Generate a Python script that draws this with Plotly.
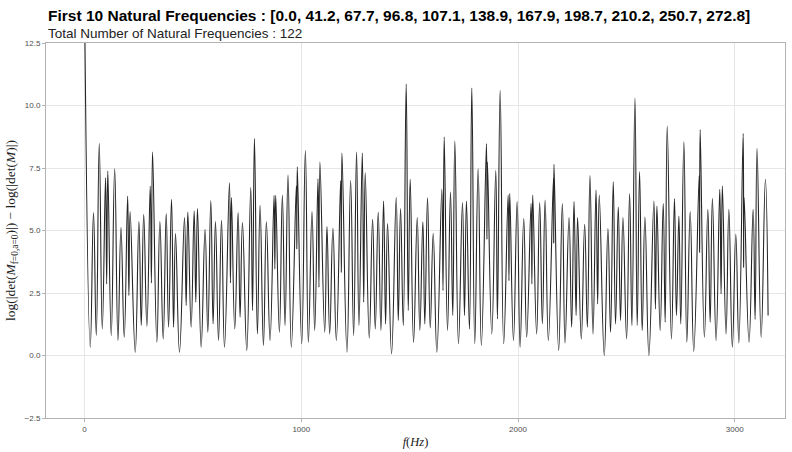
import plotly.graph_objects as go

# Peaks (natural frequencies, Hz) and their heights
peak_freqs = [0, 41.2, 67.7, 96.8, 107.1, 138.9, 167.9, 198.7, 210.2, 250.7, 272.8,
              302.9, 313.7, 347.5, 376.7, 401.2, 419.6, 461, 476.5, 505.6, 521, 556,
              582.5, 604, 631.8, 668.5, 677.7, 708.5, 728.6, 766.8, 783.8, 809.8, 839,
              874.3, 882, 912.7, 938.7, 977, 981.6, 1018.8, 1049.5, 1077, 1086, 1118.5,
              1146, 1181.6, 1187.7, 1227.6, 1255, 1281.5, 1295, 1329, 1355, 1379.7, 1398,
              1438, 1458, 1484, 1502.5, 1535, 1561, 1582.5, 1608.7, 1648.5, 1659.4,
              1688.5, 1708.5, 1743.8, 1762, 1786.8, 1816, 1854.4, 1859, 1897.4, 1917.6,
              1954.4, 1962, 1996, 2026.5, 2060.3, 2068, 2100, 2125, 2163.5, 2166, 2204.6,
              2235.5, 2258.5, 2275, 2307.5, 2332, 2360, 2375, 2415, 2439.6, 2462.7,
              2484.3, 2515, 2539.6, 2561, 2585.6, 2627, 2641, 2670, 2688.5, 2722, 2742.4,
              2765.4, 2794.5, 2836, 2840.5, 2876, 2897, 2931, 2943, 2973, 3005, 3039,
              3043.5, 3085, 3103, 3141.5]
peak_vals = [14.0, 5.72, 8.48, 7.11, 7.38, 7.47, 5.12, 6.38, 5.76, 5.36, 5.65,
             6.78, 8.14, 5.36, 5.68, 6.25, 4.88, 5.52, 5.74, 5.78, 5.88, 5.05,
             6.2, 5.36, 5.41, 6.91, 6.32, 5.72, 5.32, 6.72, 8.68, 6.01, 5.35,
             6.41, 6.41, 6.42, 7.22, 6.78, 7.55, 8.2, 5.76, 7.07, 7.74, 5.16,
             5.09, 7.0, 8.1, 7.0, 8.14, 8.1, 7.31, 5.45, 5.74, 6.18, 5.28,
             6.33, 5.88, 10.86, 7.05, 5.52, 5.35, 6.32, 4.88, 6.65, 8.74,
             6.54, 8.58, 6.12, 6.18, 10.7, 7.47, 8.48, 7.74, 7.4, 10.61,
             6.42, 6.49, 6.16, 5.48, 6.08, 6.42, 6.12, 6.22, 7.1, 7.65, 6.08,
             5.52, 6.16, 5.52, 5.25, 7.2, 6.62, 6.42, 5.08, 6.95, 5.94,
             5.52, 6.48, 10.3, 7.35, 5.54, 6.18, 5.98, 6.08, 9.18, 6.28, 5.58,
             8.55, 5.76, 7.2, 9.04, 5.85, 6.29, 6.65, 6.78, 5.85, 4.85, 8.88,
             6.32, 5.85, 8.28, 7.05]

# Valleys between peaks (and the final sample)
trough_freqs = [26.3, 54, 81.7, 102, 123, 154, 183, 204.5, 233.8, 261.5, 287.6, 308.3,
                333.6, 362.8, 387.5, 410.6, 438, 468.7, 491.7, 513.3, 537.9, 568.7, 593,
                618, 645.6, 673, 693, 717.5, 748.4, 775, 797.5, 825.3, 855.8, 878, 899,
                925, 954, 979.3, 1002, 1032.6, 1061.8, 1081.5, 1108, 1131, 1161.7, 1184.6,
                1210.8, 1241.5, 1266, 1288, 1313.6, 1341.3, 1367.4, 1389, 1416.6, 1447.5,
                1470.5, 1493.5, 1518, 1547, 1570, 1595, 1625.5, 1654, 1674.7, 1699,
                1725.3, 1753, 1776, 1800.5, 1831, 1856.7, 1879, 1905, 1934, 1958.2, 1979,
                2009.6, 2040, 2064, 2086, 2112.4, 2140, 2164.8, 2187.6, 2217, 2247.5, 2268,
                2292, 2320, 2346, 2367.5, 2398, 2427, 2450, 2473, 2501, 2525.6, 2550, 2573,
                2604, 2634, 2656, 2679, 2708, 2731, 2751, 2779, 2811, 2838, 2860, 2886.6,
                2914, 2937, 2960, 2989, 3019, 3041, 3066, 3094, 3122, 3154]
trough_vals = [0.33, 0.8, 1.06, 2.86, 0.8, 0.6, 0.73, 2.4, 0.13, 1.2, 1.17, 2.9,
               0.53, 0.66, 1.13, 1.13, 0.13, 2.0, 1.13, 2.13, 0.33, 0.93, 1.26,
               0.6, 0.33, 2.9, 1.06, 1.53, 0.2, 1.8, 0.86, 0.4, 0.6, 3.46, 0.93,
               1.2, 0.33, 4.26, 0.47, 0.53, 1.0, 2.73, 0.93, 0.86, 0.6, 3.32,
               0.13, 0.8, 1.2, 2.13, 0.7, 1.06, 1.0, 1.26, 0.07, 1.4,
               1.2, 1.8, 0.53, 1.0, 1.26, 1.1, 0.13, 2.6, 1.0, 1.6,
               0.47, 1.6, 1.06, 0.47, 0.4, 4.65, 0.86, 1.46, 0.47, 2.99, 0.6,
               0.33, 0.73, 2.86, 0.86, 1.26, 0.6, 4.5, 0.2, 0.5, 1.13, 1.6,
               0.66, 1.13, 0.86, 2.06, 0.0, 0.93, 1.26, 1.4, 0.66, 1.2, 1.2, 1.0,
               0.0, 1.86, 1.0, 1.33, 0.66, 1.6, 1.26, 0.53, 0.17, 4.12, 0.73, 1.33,
               0.6, 2.46, 0.86, 0.33, 0.5, 3.52, 0.53, 1.44, 0.73, 1.6]

x_ticks = [0, 1000, 2000, 3000]
y_ticks = [-2.5, 0.0, 2.5, 5.0, 7.5, 10.0, 12.5]

title_text = ("First 10 Natural Frequencies : [0.0, 41.2, 67.7, 96.8, 107.1, 138.9, "
              "167.9, 198.7, 210.2, 250.7, 272.8]")
subtitle_text = "Total Number of Natural Frequencies : 122"

pts = sorted(list(zip(peak_freqs, peak_vals)) + list(zip(trough_freqs, trough_vals)))
xs = [p[0] for p in pts]
ys = [p[1] for p in pts]

fig = go.Figure()
fig.add_trace(go.Scatter(x=xs, y=ys, mode="lines",
                         line=dict(color="#262626", width=1.1, shape="spline", smoothing=1.3),
                         cliponaxis=True, showlegend=False))

axis_common = dict(showline=True, mirror=True, linecolor="#b3b3b3", linewidth=1,
                   showgrid=True, gridcolor="#e6e6e6", gridwidth=1,
                   ticks="outside", ticklen=3, tickcolor="#b3b3b3", tickwidth=1,
                   tickfont=dict(family="Liberation Sans, Arial", size=8, color="#4d4d4d"),
                   zeroline=False)

fig.update_layout(
    width=792, height=452,
    margin=dict(l=46, r=6, t=43, b=32),
    paper_bgcolor="white", plot_bgcolor="white",
    xaxis=dict(range=[-178, 3232], tickvals=x_ticks, **axis_common,
               title=dict(text="<i>f</i>(<i>Hz</i>)",
                          font=dict(family="Liberation Serif, DejaVu Serif", size=12.5, color="#222"),
                          standoff=4)),
    yaxis=dict(range=[-2.5, 12.5], tickvals=y_ticks, tickformat=".1f", **axis_common,
               title=dict(text="log(|det(<i>M</i><sub>f=0,a=0</sub>)|) − log(|det(<i>M</i>)|)",
                          font=dict(family="Liberation Serif, DejaVu Serif", size=13.5, color="#222"),
                          standoff=5)),
    annotations=[
        dict(text="<b>" + title_text + "</b>", xref="paper", yref="paper", x=0, y=1,
             xanchor="left", yanchor="middle", yshift=28, showarrow=False,
             font=dict(family="Liberation Sans, Arial", size=15.5, color="black")),
        dict(text=subtitle_text, xref="paper", yref="paper", x=0, y=1,
             xanchor="left", yanchor="middle", yshift=10, showarrow=False,
             font=dict(family="Liberation Sans, Arial", size=13.5, color="#222")),
    ],
)

fig.write_html("out.html")
